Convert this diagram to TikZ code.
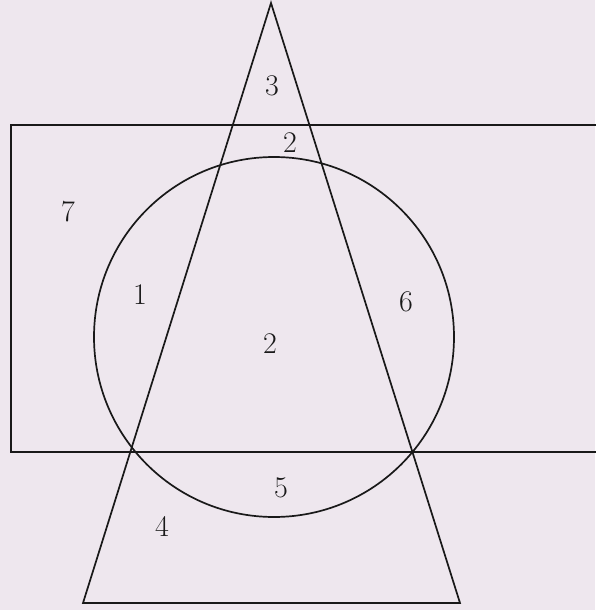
\documentclass[tikz,border=0pt]{standalone}
\begin{document}
\definecolor{paper}{RGB}{238,231,238}
\definecolor{ink}{RGB}{25,25,25}
\begin{tikzpicture}[x=1pt,y=-1pt,
  shape line/.style={draw=ink,line width=1.7pt,line join=miter},
  num/.style={inner sep=0pt,font=\fontsize{30}{30}\selectfont,text=ink}]
\fill[paper] (0,0) rectangle (595,610);
\useasboundingbox (0,0) rectangle (595,610);
% rectangle (right edge beyond the picture)
\coordinate (rtr) at (597,125);
\coordinate (rtl) at (11,125);
\coordinate (rbl) at (11,452);
\coordinate (rbr) at (597,452);
\draw[shape line] (rtr) -- (rtl) -- (rbl) -- (rbr);
% circle
\coordinate (cc) at (274,337);
\draw[shape line] (cc) circle[radius=180];
% triangle
\coordinate (apex) at (271,3);
\coordinate (bl) at (83,603);
\coordinate (br) at (460,603);
\draw[shape line] (apex) -- (bl) -- (br) -- cycle;
% region labels
\node[num] (n3) at (272,86) {3};
\node[num] (n2a) at (290,143) {2};
\node[num] (n7) at (68,212) {7};
\node[num] (n1) at (140,295) {1};
\node[num] (n6) at (406,302) {6};
\node[num] (n2b) at (270,344) {2};
\node[num] (n5) at (281,488) {5};
\node[num] (n4) at (162,526) {4};
\end{tikzpicture}
\end{document}
